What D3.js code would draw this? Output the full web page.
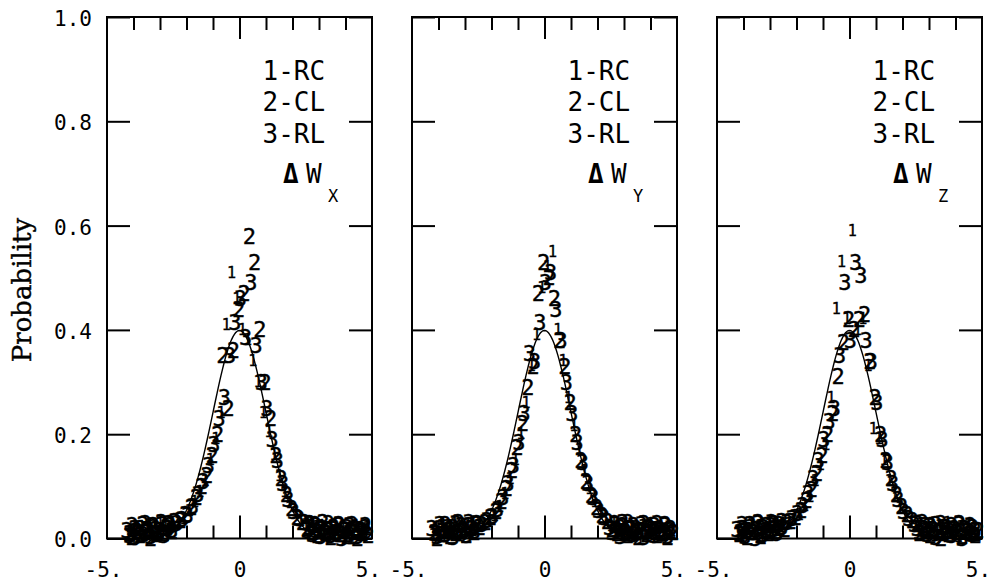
<!DOCTYPE html>
<html>
<head>
<meta charset="utf-8">
<script src="https://cdn.jsdelivr.net/npm/d3@7"></script>
<style>
  html, body { margin: 0; padding: 0; background: #fff; }
  svg { display: block; }
  .tick text { font-family: "DejaVu Sans Mono", monospace; }
</style>
</head>
<body>
<svg id="chart" width="996" height="582"></svg>
<script>
// ---------------- data ----------------
const panelNames = ["X", "Y", "Z"];
const legendLabels = ["1-RC", "2-CL", "3-RL"];
const seriesSymbols = ["1", "2", "3"];
const yTickValues = [0, 0.2, 0.4, 0.6, 0.8, 1.0];
const yTickLabels = ["0.0", "0.2", "0.4", "0.6", "0.8", "1.0"];
const xTickValues = [-4, -3, -2, -1, 0, 1, 2, 3, 4];
const xLabelValues = [-5, 0, 5];
const xLabelTexts = ["-5.", "0", "5."];

// bin centres of each series (fine bins in the tails, coarser in the core)
const xBins1 = [-4.2,-4.1,-4.0,-3.9,-3.8,-3.7,-3.6,-3.5,-3.4,-3.3,-3.2,-3.1,-3.0,-2.9,-2.8,-2.7,-2.6,-2.5,
  -2.3,-2.1,-1.9,-1.7,-1.5,-1.3,-1.1,-0.9,-0.7,-0.5,-0.3,-0.1,0.1,0.3,0.5,0.7,0.9,1.1,1.3,1.5,1.7,1.9,2.1,2.3,
  2.5,2.6,2.7,2.8,2.9,3.0,3.1,3.2,3.3,3.4,3.5,3.6,3.7,3.8,3.9,4.0,4.1,4.2,4.3,4.4,4.5,4.6,4.7,4.8];
const xBins2 = [-4.15,-4.05,-3.95,-3.85,-3.75,-3.65,-3.55,-3.45,-3.35,-3.25,-3.15,-3.05,-2.95,-2.85,-2.75,-2.65,-2.55,-2.45,
  -2.23,-2.03,-1.83,-1.63,-1.43,-1.23,-1.03,-0.83,-0.63,-0.43,-0.23,-0.03,0.17,0.37,0.57,0.77,0.97,1.17,1.37,1.57,1.77,1.97,2.17,2.37,
  2.55,2.65,2.75,2.85,2.95,3.05,3.15,3.25,3.35,3.45,3.55,3.65,3.75,3.85,3.95,4.05,4.15,4.25,4.35,4.45,4.55,4.65,4.75,4.85];
const xBins3 = [-4.25,-4.15,-4.05,-3.95,-3.85,-3.75,-3.65,-3.55,-3.45,-3.35,-3.25,-3.15,-3.05,-2.95,-2.85,-2.75,-2.65,-2.55,
  -2.37,-2.17,-1.97,-1.77,-1.57,-1.37,-1.17,-0.97,-0.77,-0.57,-0.37,-0.17,0.03,0.23,0.43,0.63,0.83,1.03,1.23,1.43,1.63,1.83,2.03,2.23,
  2.45,2.55,2.65,2.75,2.85,2.95,3.05,3.15,3.25,3.35,3.45,3.55,3.65,3.75,3.85,3.95,4.05,4.15,4.25,4.35,4.45,4.55,4.65,4.75];

// Delta W_x
const wx1 = [0.004,0.012,0.000,0.018,0.008,0.022,0.004,0.014,0.026,0.010,0.020,0.006,0.028,0.016,0.024,0.012,0.030,0.022,
  0.030,0.038,0.052,0.070,0.090,0.110,0.150,0.190,0.240,0.410,0.510,0.460,0.400,0.380,0.340,0.300,0.240,0.205,0.160,0.120,0.090,0.068,0.048,0.034,
  0.026,0.018,0.030,0.012,0.022,0.008,0.024,0.016,0.004,0.020,0.010,0.026,0.002,0.014,0.022,0.008,0.018,0.000,0.012,0.024,0.006,0.016,0.010,0.020];
const wx2 = [0.010,0.002,0.020,0.014,0.006,0.026,0.012,0.018,0.000,0.024,0.008,0.016,0.030,0.010,0.022,0.028,0.014,0.032,
  0.034,0.046,0.060,0.078,0.100,0.120,0.160,0.200,0.350,0.250,0.360,0.440,0.470,0.580,0.530,0.400,0.300,0.230,0.160,0.115,0.085,0.058,0.040,0.030,
  0.020,0.028,0.012,0.024,0.006,0.018,0.030,0.010,0.016,0.002,0.022,0.012,0.026,0.008,0.018,0.004,0.024,0.014,0.020,0.000,0.016,0.010,0.022,0.006];
const wx3 = [0.016,0.006,0.024,0.002,0.012,0.020,0.008,0.028,0.014,0.004,0.022,0.018,0.010,0.026,0.006,0.020,0.024,0.016,
  0.028,0.036,0.044,0.062,0.085,0.110,0.140,0.180,0.230,0.270,0.350,0.415,0.460,0.385,0.490,0.370,0.300,0.250,0.190,0.150,0.105,0.075,0.052,0.038,
  0.030,0.016,0.022,0.008,0.026,0.014,0.004,0.020,0.012,0.028,0.006,0.018,0.010,0.024,0.000,0.016,0.022,0.008,0.026,0.012,0.004,0.018,0.014,0.024];
// Delta W_y
const wy1 = [0.006,0.018,0.010,0.024,0.002,0.014,0.020,0.008,0.028,0.012,0.004,0.022,0.016,0.026,0.010,0.030,0.018,0.024,
  0.026,0.032,0.044,0.060,0.085,0.115,0.150,0.200,0.260,0.330,0.390,0.480,0.520,0.550,0.400,0.340,0.270,0.215,0.170,0.130,0.095,0.070,0.050,0.036,
  0.024,0.030,0.014,0.020,0.008,0.026,0.016,0.004,0.022,0.012,0.018,0.000,0.024,0.010,0.016,0.028,0.006,0.020,0.012,0.022,0.004,0.018,0.010,0.014];
const wy2 = [0.012,0.000,0.020,0.008,0.026,0.016,0.004,0.022,0.010,0.030,0.014,0.018,0.006,0.024,0.020,0.012,0.028,0.022,
  0.030,0.040,0.052,0.070,0.095,0.130,0.175,0.220,0.290,0.330,0.470,0.530,0.500,0.460,0.380,0.330,0.260,0.200,0.150,0.110,0.082,0.060,0.044,0.032,
  0.018,0.026,0.010,0.022,0.030,0.014,0.006,0.020,0.024,0.012,0.002,0.016,0.028,0.008,0.020,0.014,0.024,0.006,0.018,0.010,0.026,0.002,0.016,0.012];
const wy3 = [0.020,0.010,0.004,0.026,0.014,0.008,0.022,0.018,0.002,0.028,0.012,0.024,0.016,0.006,0.030,0.020,0.014,0.026,
  0.026,0.034,0.042,0.056,0.078,0.105,0.140,0.185,0.240,0.355,0.340,0.415,0.490,0.510,0.440,0.380,0.300,0.240,0.185,0.145,0.105,0.078,0.054,0.040,
  0.022,0.012,0.028,0.016,0.004,0.024,0.010,0.030,0.018,0.008,0.020,0.014,0.026,0.002,0.012,0.022,0.018,0.006,0.028,0.014,0.010,0.024,0.004,0.020];
// Delta W_z
const wz1 = [0.014,0.004,0.022,0.010,0.018,0.028,0.006,0.016,0.024,0.000,0.012,0.020,0.030,0.008,0.026,0.018,0.022,0.028,
  0.028,0.036,0.046,0.062,0.080,0.110,0.140,0.180,0.270,0.440,0.530,0.420,0.590,0.400,0.420,0.330,0.210,0.190,0.150,0.110,0.080,0.058,0.042,0.030,
  0.022,0.014,0.028,0.008,0.020,0.016,0.026,0.004,0.012,0.024,0.018,0.006,0.030,0.010,0.020,0.014,0.002,0.022,0.016,0.008,0.026,0.012,0.018,0.004];
const wz2 = [0.008,0.020,0.014,0.002,0.026,0.012,0.018,0.030,0.006,0.022,0.016,0.010,0.024,0.028,0.014,0.020,0.032,0.018,
  0.032,0.040,0.054,0.072,0.094,0.125,0.160,0.200,0.240,0.310,0.375,0.420,0.400,0.420,0.430,0.340,0.270,0.200,0.150,0.115,0.085,0.062,0.046,0.034,
  0.028,0.010,0.020,0.024,0.014,0.006,0.018,0.026,0.012,0.000,0.022,0.016,0.008,0.024,0.018,0.012,0.028,0.004,0.020,0.014,0.010,0.022,0.006,0.016];
const wz3 = [0.018,0.010,0.026,0.004,0.016,0.022,0.012,0.000,0.028,0.020,0.008,0.024,0.014,0.030,0.018,0.010,0.026,0.022,
  0.030,0.038,0.048,0.064,0.086,0.115,0.150,0.190,0.225,0.250,0.350,0.490,0.380,0.530,0.505,0.380,0.340,0.260,0.190,0.145,0.105,0.075,0.052,0.038,
  0.026,0.020,0.012,0.030,0.016,0.008,0.024,0.018,0.002,0.014,0.028,0.010,0.022,0.016,0.006,0.020,0.012,0.026,0.000,0.018,0.014,0.024,0.008,0.016];

const xBins = [xBins1, xBins2, xBins3];
const panelSeries = [[wx1, wx2, wx3], [wy1, wy2, wy3], [wz1, wz2, wz3]];

// ---------------- layout ----------------
const svg = d3.select("#chart");
const W = 265, H = 521.5, topY = 17, left0 = 107, gap = 40;
const mono = "DejaVu Sans Mono, monospace";

const x = d3.scaleLinear().domain([-5, 5]).range([0, W]);
const y = d3.scaleLinear().domain([0, 1]).range([H, 0]);
const normal = v => Math.exp(-v * v / 2) / Math.sqrt(2 * Math.PI);
const curveXs = d3.range(-5, 5.0001, 0.05);

panelNames.forEach((name, p) => {
  const g = svg.append("g").attr("transform", `translate(${left0 + p * (W + gap)},${topY})`);

  // x ticks (bottom & top, inward)
  const bottomAxis = g.append("g").attr("transform", `translate(0,${H})`)
    .call(d3.axisBottom(x).tickValues(xTickValues).tickSize(-13).tickFormat(""));
  const topAxis = g.append("g")
    .call(d3.axisTop(x).tickValues(xTickValues).tickSize(-13).tickFormat(""));
  [bottomAxis, topAxis].forEach(a => {
    a.select(".domain").remove();
    a.selectAll(".tick line").attr("stroke", "#000").attr("stroke-width", 2)
      .filter(d => d === 0).attr("y2", a === bottomAxis ? -23 : 22);
  });

  // x labels
  const xl = g.append("g").attr("transform", `translate(0,${H})`)
    .call(d3.axisBottom(x).tickValues(xLabelValues).tickSize(0)
      .tickFormat((d, i) => xLabelTexts[i]));
  xl.select(".domain").remove();
  xl.selectAll(".tick text").attr("font-size", 21).attr("fill", "#000")
    .attr("y", 24).attr("dy", "0.71em")
    .attr("dx", d => d === 0 ? 0 : -4);

  // y ticks (left & right, inward)
  const leftAxis = g.append("g")
    .call(d3.axisLeft(y).tickValues(yTickValues).tickSize(-23)
      .tickFormat((d, i) => p === 0 ? yTickLabels[i] : ""));
  const rightAxis = g.append("g").attr("transform", `translate(${W},0)`)
    .call(d3.axisRight(y).tickValues(yTickValues).tickSize(-23).tickFormat(""));
  [leftAxis, rightAxis].forEach(a => {
    a.select(".domain").remove();
    a.selectAll(".tick line").attr("stroke", "#000").attr("stroke-width", 2);
  });
  leftAxis.selectAll(".tick text").attr("font-size", 21).attr("fill", "#000")
    .attr("x", -15).attr("text-anchor", "end").attr("dy", "0.4em");

  // frame
  g.append("rect").attr("x", 0).attr("y", 0).attr("width", W).attr("height", H)
    .attr("fill", "none").attr("stroke", "#000").attr("stroke-width", 2);

  // gaussian reference curve
  g.append("path")
    .datum(curveXs)
    .attr("fill", "none").attr("stroke", "#000").attr("stroke-width", 1.4)
    .attr("d", d3.line().x(d => x(d)).y(d => y(normal(d))));

  // data markers
  panelSeries[p].forEach((vals, s) => {
    const pts = vals.map((v, i) => ({ xv: xBins[s][i], yv: v }));
    g.append("g").selectAll("text").data(pts).join("text")
      .attr("x", d => x(d.xv)).attr("y", d => y(d.yv))
      .attr("text-anchor", "middle").attr("dominant-baseline", "central")
      .attr("font-family", mono)
      .attr("font-size", s === 0 ? 15 : 22)
      .attr("fill", "#000").attr("stroke", "#000").attr("stroke-width", 0.4)
      .text(seriesSymbols[s]);
  });

  // legend
  const lg = g.append("g").attr("font-family", mono).attr("fill", "#000");
  legendLabels.forEach((t, i) => {
    lg.append("text").attr("x", 155.5).attr("y", [63, 94, 126][i])
      .attr("font-size", 26).text(t);
  });
  lg.append("text").attr("x", 176).attr("y", 166).attr("font-size", 26).attr("font-weight", "bold").text("Δ");
  lg.append("text").attr("x", 199).attr("y", 166).attr("font-size", 26).text("W");
  lg.append("text").attr("x", 221).attr("y", 185).attr("font-size", 17).text(name);
});

// y axis title
svg.append("text")
  .attr("transform", "translate(31,290) rotate(-90)")
  .attr("text-anchor", "middle")
  .attr("font-family", "DejaVu Serif, serif")
  .attr("font-size", 26)
  .attr("fill", "#000").attr("stroke", "#000").attr("stroke-width", 0.4)
  .text("Probability");
</script>
</body>
</html>
